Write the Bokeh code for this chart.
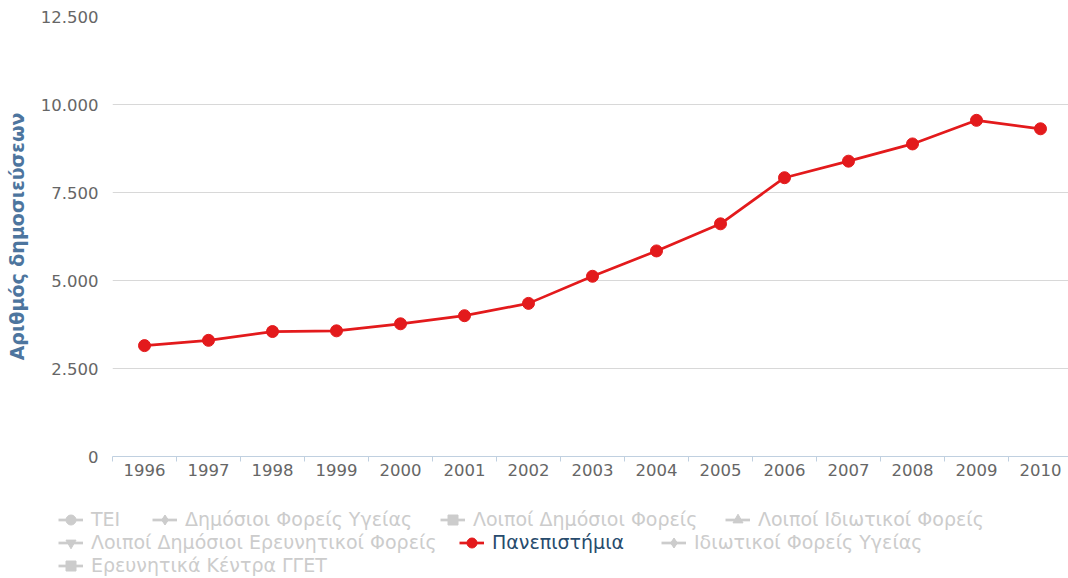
import math
from bokeh.plotting import figure
from bokeh.models import Legend, LegendItem, FixedTicker, Range1d, ColumnDataSource
from bokeh.embed import file_html
from bokeh.resources import INLINE

# ---------------- data ----------------
years = list(range(1996, 2011))
universities = [3150, 3300, 3550, 3570, 3770, 4000, 4350, 5120, 5840, 6610, 7920, 8390, 8880, 9550, 9310]

y_ticks = [0, 2500, 5000, 7500, 10000, 12500]
y_tick_labels = ["0", "2.500", "5.000", "7.500", "10.000", "12.500"]

series_names = ["ΤΕΙ", "Δημόσιοι Φορείς Υγείας", "Λοιποί Δημόσιοι Φορείς",
                "Λοιποί Ιδιωτικοί Φορείς", "Λοιποί Δημόσιοι Ερευνητικοί Φορείς",
                "Πανεπιστήμια", "Ιδιωτικοί Φορείς Υγείας", "Ερευνητικά Κέντρα ΓΓΕΤ"]
series_markers = ["circle", "diamond", "square", "triangle", "inverted_triangle",
                  "circle", "diamond", "square"]
active_series = "Πανεπιστήμια"
# hidden series (switched off in the legend): their values are not shown
hidden_x = [math.nan]
hidden_y = [math.nan]

y_title = "Αριθμός δημοσιεύσεων"

# ---------------- styles / layout ----------------
RED = "#e31a1c"
HIDDEN = "#cccccc"
ACTIVE_TEXT = "#274b6d"
FONT = "DejaVu Sans"

W = 1068
H_MAIN, H_LEG = 490, 88
LEFT, TOP = 112, 16
BOTTOM = H_MAIN - 456
px_per_year = 64.0
x_start = years[0] - 0.5
x_end = x_start + (W - LEFT) / px_per_year

p = figure(width=W, height=H_MAIN, output_backend="svg", toolbar_location=None,
           x_range=Range1d(x_start, x_end), y_range=Range1d(0, 12500),
           min_border_left=LEFT, min_border_right=0, min_border_top=TOP,
           min_border_bottom=BOTTOM)
p.outline_line_color = None

# axes
yax = p.yaxis[0]
yax.ticker = FixedTicker(ticks=y_ticks)
yax.major_label_overrides = {t: l for t, l in zip(y_ticks, y_tick_labels)}
yax.axis_line_color = None
yax.major_tick_line_color = None
yax.minor_tick_line_color = None
yax.major_tick_out = 0
yax.major_label_standoff = 14
yax.major_label_text_font = FONT
yax.major_label_text_font_size = "16.5px"
yax.major_label_text_color = "#666666"
yax.axis_label = y_title
yax.axis_label_text_font = FONT
yax.axis_label_text_font_size = "19px"
yax.axis_label_text_font_style = "bold"
yax.axis_label_text_color = "#4d759e"
yax.axis_label_standoff = 10

xax = p.xaxis[0]
xax.ticker = FixedTicker(ticks=years, minor_ticks=[y - 0.5 for y in years] + [years[-1] + 0.5])
xax.major_label_overrides = {y: str(y) for y in years}
xax.axis_line_color = "#c0d0e0"
xax.major_tick_line_color = None
xax.major_tick_out = 0
xax.major_tick_in = 0
xax.minor_tick_line_color = "#c0d0e0"
xax.minor_tick_out = 5
xax.minor_tick_in = 0
xax.major_label_standoff = 2
xax.major_label_text_font = FONT
xax.major_label_text_font_size = "16.5px"
xax.major_label_text_color = "#666666"

p.xgrid.grid_line_color = None
p.ygrid.ticker = FixedTicker(ticks=y_ticks)
p.ygrid.grid_line_color = "#d8d8d8"
p.ygrid.grid_line_width = 1

src_uni = ColumnDataSource(dict(x=years, y=universities))
p.line("x", "y", source=src_uni, line_color=RED, line_width=2.7)
p.scatter("x", "y", source=src_uni, marker="circle", size=12,
          fill_color=RED, line_color=RED)

# ---------------- legend strip (separate root, so its frame spans the full width) ----------------
lf = figure(width=W, height=H_LEG, output_backend="svg", toolbar_location=None,
            x_axis_location=None, y_axis_location=None,
            min_border=0, x_range=Range1d(0, 1), y_range=Range1d(0, 1))
lf.outline_line_color = None
lf.xgrid.grid_line_color = None
lf.ygrid.grid_line_color = None

legend_symbol_left = [58, 152, 440, 725, 58, 459, 661, 58]
legend_row_of_item = [0, 0, 0, 0, 1, 1, 1, 2]
legend_row_centre = [519, 542, 565]
GLYPH = 25

for name, marker, xs, row in zip(series_names, series_markers,
                                 legend_symbol_left, legend_row_of_item):
    is_active = name == active_series
    col = RED if is_active else HIDDEN
    src = src_uni if is_active else ColumnDataSource(dict(x=hidden_x, y=hidden_y))
    ln = lf.line("x", "y", source=src, line_color=col, line_width=2.7)
    sc = lf.scatter("x", "y", source=src, marker=marker, size=10,
                    fill_color=col, line_color=col)
    if not is_active:
        ln.visible = False
        sc.visible = False
    yc = legend_row_centre[row] - H_MAIN
    vy = H_LEG - (yc + GLYPH / 2)
    lg = Legend(items=[LegendItem(label=name, renderers=[ln, sc])],
                location=(xs, vy), orientation="horizontal",
                padding=0, margin=0, spacing=0,
                glyph_width=GLYPH, glyph_height=GLYPH, label_height=GLYPH,
                label_standoff=8,
                border_line_color=None, background_fill_alpha=0,
                inactive_fill_alpha=0,
                label_text_font=FONT, label_text_font_size="19px",
                label_text_color=ACTIVE_TEXT if is_active else HIDDEN,
                click_policy="none")
    lf.add_layout(lg, "center")

open("out.html", "w").write(file_html([p, lf], INLINE))
